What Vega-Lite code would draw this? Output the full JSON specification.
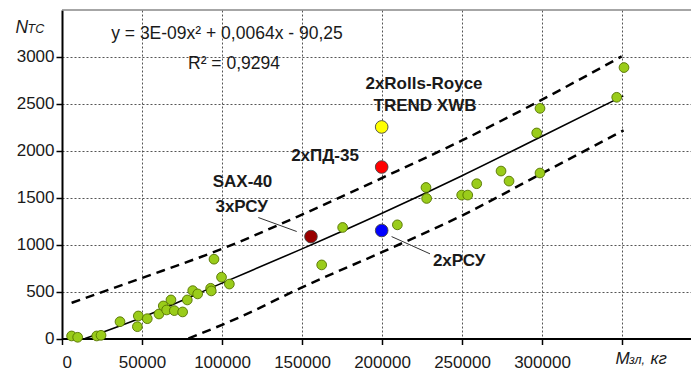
{
  "$schema": "https://vega.github.io/schema/vega-lite/v6.json",
  "width": 629,
  "height": 328.5,
  "autosize": {"type": "none"},
  "padding": {"left": 62, "top": 10, "right": 0, "bottom": 37.5},
  "background": "white",
  "config": {
    "view": {"stroke": null},
    "font": "Liberation Sans",
    "text": {"font": "Liberation Sans"}
  },
  "datasets": {
    "green": [
      {"m": 6000, "n": 27}, {"m": 9800, "n": 13}, {"m": 21700, "n": 27}, {"m": 24400, "n": 34},
      {"m": 36250, "n": 179}, {"m": 47100, "n": 126}, {"m": 47700, "n": 240}, {"m": 53300, "n": 211},
      {"m": 60600, "n": 261}, {"m": 63300, "n": 347}, {"m": 65400, "n": 304}, {"m": 68100, "n": 411},
      {"m": 70200, "n": 297}, {"m": 75400, "n": 283}, {"m": 78300, "n": 411}, {"m": 81700, "n": 510},
      {"m": 84800, "n": 475}, {"m": 92900, "n": 535}, {"m": 93300, "n": 507}, {"m": 95000, "n": 845},
      {"m": 99700, "n": 653}, {"m": 104600, "n": 580}, {"m": 162300, "n": 784}, {"m": 175400, "n": 1183},
      {"m": 209600, "n": 1211}, {"m": 227500, "n": 1609}, {"m": 227900, "n": 1492}, {"m": 249800, "n": 1528},
      {"m": 253600, "n": 1528}, {"m": 259200, "n": 1649}, {"m": 274400, "n": 1784}, {"m": 279400, "n": 1677},
      {"m": 296700, "n": 2190}, {"m": 298750, "n": 2452}, {"m": 298750, "n": 1763}, {"m": 346700, "n": 2570},
      {"m": 351250, "n": 2887}
    ],
    "special": [
      {"m": 155600, "n": 1086, "c": "SAX"},
      {"m": 199800, "n": 1827, "c": "PD"},
      {"m": 199800, "n": 2254, "c": "RR"},
      {"m": 199800, "n": 1151, "c": "PCY"}
    ],
    "trend": [
      {"m": 14400, "n": 0}, {"m": 50000, "n": 225}, {"m": 100000, "n": 590}, {"m": 150000, "n": 955},
      {"m": 200000, "n": 1335}, {"m": 250000, "n": 1735}, {"m": 300000, "n": 2155}, {"m": 350800, "n": 2585}
    ],
    "bands": [
      {"s": "up", "m": 6000, "n": 380}, {"s": "up", "m": 50000, "n": 645}, {"s": "up", "m": 100000, "n": 955},
      {"s": "up", "m": 150000, "n": 1320}, {"s": "up", "m": 200000, "n": 1710}, {"s": "up", "m": 250000, "n": 2110},
      {"s": "up", "m": 300000, "n": 2545}, {"s": "up", "m": 349800, "n": 3005},
      {"s": "lo", "m": 79000, "n": 0}, {"s": "lo", "m": 111000, "n": 226}, {"s": "lo", "m": 150000, "n": 545},
      {"s": "lo", "m": 200000, "n": 920}, {"s": "lo", "m": 250000, "n": 1310}, {"s": "lo", "m": 300000, "n": 1760},
      {"s": "lo", "m": 351000, "n": 2218}
    ],
    "labels": [
      {"m": 226250, "n": 2716, "t": "2xRolls-Royce"},
      {"m": 226900, "n": 2481, "t": "TREND XWB"},
      {"m": 164400, "n": 1947, "t": "2xПД-35"},
      {"m": 112800, "n": 1670, "t": "SAX-40"},
      {"m": 112300, "n": 1403, "t": "3xРСУ"},
      {"m": 248200, "n": 830, "t": "2xРСУ"}
    ],
    "eq": [
      {"m": 103100, "n": 3240, "t": "y = 3E-09x² + 0,0064x - 90,25"},
      {"m": 107500, "n": 2925, "t": "R² = 0,9294"}
    ],
    "leaders": [
      {"m": 122700, "n": 1289, "m2": 146700, "n2": 1140},
      {"m": 206000, "n": 1086, "m2": 230000, "n2": 902}
    ],
    "top": [{"n": 3500}]
  },
  "resolve": {"axis": {"x": "independent", "y": "independent"}},
  "layer": [
    {
      "data": {"name": "green"},
      "mark": {"type": "point", "opacity": 0},
      "encoding": {
        "x": {
          "field": "m", "type": "quantitative",
          "scale": {"domain": [0, 393125], "nice": false, "zero": false},
          "axis": {
            "orient": "bottom",
            "values": [0, 50000, 100000, 150000, 200000, 250000, 300000, 350000],
            "format": "d",
            "labelExpr": "datum.value === 350000 ? '' : datum.label",
            "grid": true, "gridDash": [2, 2], "gridColor": "#555", "gridWidth": 1,
            "domainColor": "#000", "domainWidth": 2,
            "tickColor": "#000", "tickSize": 6, "tickWidth": 1.5,
            "labelFontSize": 17, "labelColor": "#1a1a1a", "labelPadding": 10, "labelFont": "Liberation Sans",
            "title": "M", "titleX": 553, "titleY": 24.5, "titleAlign": "left", "titleBaseline": "alphabetic",
            "titleAngle": 0, "titleFontStyle": "italic", "titleFontWeight": "normal", "titleFontSize": 17,
            "titleColor": "#1a1a1a", "titleFont": "Liberation Sans"
          }
        },
        "y": {
          "field": "n", "type": "quantitative",
          "scale": {"domain": [0, 3500], "nice": false, "zero": false},
          "axis": {
            "orient": "left",
            "values": [0, 500, 1000, 1500, 2000, 2500, 3000],
            "format": "d",
            "grid": true, "gridDash": [2, 2], "gridColor": "#555", "gridWidth": 1,
            "domainColor": "#000", "domainWidth": 2,
            "tickColor": "#000", "tickSize": 6, "tickWidth": 1.5,
            "labelFontSize": 17, "labelColor": "#1a1a1a", "labelPadding": 2, "labelFont": "Liberation Sans",
            "title": "N", "titleX": -47, "titleY": 22, "titleAlign": "left", "titleBaseline": "alphabetic",
            "titleAngle": 0, "titleFontStyle": "italic", "titleFontWeight": "normal", "titleFontSize": 17.5,
            "titleColor": "#1a1a1a", "titleFont": "Liberation Sans"
          }
        }
      }
    },
    {
      "data": {"name": "top"},
      "mark": {"type": "rule", "color": "#888", "strokeWidth": 1.5},
      "encoding": {
        "y": {"field": "n", "type": "quantitative", "scale": {"domain": [0, 3500], "nice": false, "zero": false}, "axis": null}
      }
    },
    {
      "data": {"name": "bands"},
      "mark": {"type": "line", "color": "#000", "strokeWidth": 2.5, "strokeDash": [9, 6], "interpolate": "monotone"},
      "encoding": {
        "x": {"field": "m", "type": "quantitative", "scale": {"domain": [0, 393125], "nice": false, "zero": false},
          "axis": {"orient": "bottom", "title": "зл,", "labels": false, "ticks": false, "domain": false, "grid": false,
            "titleX": 566.5, "titleY": 24.5, "titleAlign": "left", "titleBaseline": "alphabetic", "titleAngle": 0,
            "titleFontStyle": "italic", "titleFontWeight": "normal", "titleFontSize": 12.5, "titleColor": "#1a1a1a", "titleFont": "Liberation Sans"}},
        "y": {"field": "n", "type": "quantitative", "scale": {"domain": [0, 3500], "nice": false, "zero": false},
          "axis": {"orient": "left", "title": "TC", "labels": false, "ticks": false, "domain": false, "grid": false,
            "titleX": -35, "titleY": 22, "titleAlign": "left", "titleBaseline": "alphabetic", "titleAngle": 0,
            "titleFontStyle": "italic", "titleFontWeight": "normal", "titleFontSize": 12.5, "titleColor": "#1a1a1a", "titleFont": "Liberation Sans"}},
        "detail": {"field": "s", "type": "nominal"}
      }
    },
    {
      "data": {"name": "trend"},
      "mark": {"type": "line", "color": "#000", "strokeWidth": 1.6, "interpolate": "monotone"},
      "encoding": {
        "x": {"field": "m", "type": "quantitative", "scale": {"domain": [0, 393125], "nice": false, "zero": false},
          "axis": {"orient": "bottom", "title": "кг", "labels": false, "ticks": false, "domain": false, "grid": false,
            "titleX": 588, "titleY": 24.5, "titleAlign": "left", "titleBaseline": "alphabetic", "titleAngle": 0,
            "titleFontStyle": "italic", "titleFontWeight": "normal", "titleFontSize": 17, "titleColor": "#1a1a1a", "titleFont": "Liberation Sans"}},
        "y": {"field": "n", "type": "quantitative", "scale": {"domain": [0, 3500], "nice": false, "zero": false}, "axis": null}
      }
    },
    {
      "data": {"name": "leaders"},
      "mark": {"type": "rule", "color": "#333", "strokeWidth": 1},
      "encoding": {
        "x": {"field": "m", "type": "quantitative", "scale": {"domain": [0, 393125], "nice": false, "zero": false}, "axis": null},
        "y": {"field": "n", "type": "quantitative", "scale": {"domain": [0, 3500], "nice": false, "zero": false}, "axis": null},
        "x2": {"field": "m2"},
        "y2": {"field": "n2"}
      }
    },
    {
      "data": {"name": "green"},
      "mark": {"type": "circle", "size": 95, "fill": "#9acc1a", "stroke": "#557300", "strokeWidth": 0.9, "opacity": 1},
      "encoding": {
        "x": {"field": "m", "type": "quantitative", "scale": {"domain": [0, 393125], "nice": false, "zero": false}, "axis": null},
        "y": {"field": "n", "type": "quantitative", "scale": {"domain": [0, 3500], "nice": false, "zero": false}, "axis": null}
      }
    },
    {
      "data": {"name": "special"},
      "mark": {"type": "circle", "size": 160, "stroke": "#444", "strokeWidth": 0.9, "opacity": 1},
      "encoding": {
        "x": {"field": "m", "type": "quantitative", "scale": {"domain": [0, 393125], "nice": false, "zero": false}, "axis": null},
        "y": {"field": "n", "type": "quantitative", "scale": {"domain": [0, 3500], "nice": false, "zero": false}, "axis": null},
        "fill": {"field": "c", "type": "nominal", "scale": {"domain": ["SAX", "PD", "RR", "PCY"], "range": ["#990000", "#ff0000", "#ffff00", "#0000ff"]}, "legend": null}
      }
    },
    {
      "data": {"name": "labels"},
      "mark": {"type": "text", "font": "Liberation Sans", "fontSize": 17, "fontWeight": "bold", "color": "#1a1a1a", "align": "center", "baseline": "middle"},
      "encoding": {
        "x": {"field": "m", "type": "quantitative", "scale": {"domain": [0, 393125], "nice": false, "zero": false}, "axis": null},
        "y": {"field": "n", "type": "quantitative", "scale": {"domain": [0, 3500], "nice": false, "zero": false}, "axis": null},
        "text": {"field": "t", "type": "nominal"}
      }
    },
    {
      "data": {"name": "eq"},
      "mark": {"type": "text", "font": "Liberation Sans", "fontSize": 17.5, "color": "#1a1a1a", "align": "center", "baseline": "middle"},
      "encoding": {
        "x": {"field": "m", "type": "quantitative", "scale": {"domain": [0, 393125], "nice": false, "zero": false}, "axis": null},
        "y": {"field": "n", "type": "quantitative", "scale": {"domain": [0, 3500], "nice": false, "zero": false}, "axis": null},
        "text": {"field": "t", "type": "nominal"}
      }
    }
  ]
}
